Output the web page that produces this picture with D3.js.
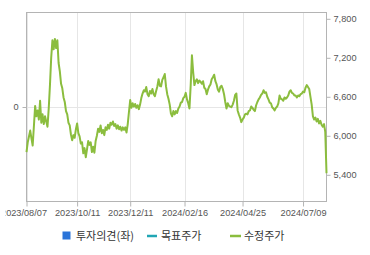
<!DOCTYPE html>
<html>
<head>
<meta charset="utf-8">
<script src="https://cdn.jsdelivr.net/npm/d3@7"></script>
<style>
  html, body { margin: 0; padding: 0; background: #fff; }
  svg { display: block; }
</style>
</head>
<body>
<svg id="chart" width="370" height="255"></svg>
<script>
// ---- Data ----
const tickLabels = ["2023/08/07", "2023/10/11", "2023/12/11", "2024/02/16", "2024/04/25", "2024/07/09"];
const tickIndex  = [0, 41, 84, 128, 175, 224];
const priceTicks = [5400, 6000, 6600, 7200, 7800];
const opinionTicks = [0];
const legendLabels = ["투자의견(좌)", "목표주가", "수정주가"];
// adjusted price (수정주가), one value per trading day 2023/08/07 .. 2024/08/05
const price = [
  5750, 5900, 5990, 6080, 5960, 5850, 6150, 6460, 6300, 6390,
  6250, 6540, 6200, 6330, 6180, 6300, 6220, 6140, 6420, 6780,
  7200, 7470, 7330, 7490, 7350, 7470, 7120, 6990, 6800, 6730,
  6590, 6520, 6380, 6330, 6200, 6160, 6020, 5930, 6010, 5970,
  6100, 6190, 6040, 5990, 5880, 5900, 5730, 5810, 5670, 5790,
  5920, 5860, 5900, 5750, 5830, 5740, 5920, 6000, 6110, 6060,
  6160, 6040, 6090, 6010, 6130, 6090, 6170, 6110, 6200, 6170,
  6220, 6150, 6180, 6110, 6160, 6100, 6140, 6080, 6130, 6090,
  6130, 6050, 6180, 6370, 6550, 6430, 6500, 6450, 6490, 6430,
  6470, 6410, 6480, 6580, 6650, 6700, 6680, 6750, 6640, 6610,
  6690, 6650, 6720, 6640, 6610, 6690, 6760, 6870, 6770, 6760,
  6860, 6900, 6950, 6760, 6640, 6570, 6480, 6340, 6300, 6380,
  6330, 6380, 6350, 6420, 6450, 6510, 6520, 6580, 6600, 6660,
  6560, 6500, 6420, 6780, 7240, 6980, 6780, 6840, 6870, 6810,
  6850, 6830, 6800, 6840, 6740, 6720, 6640, 6710, 6760, 6790,
  6870, 6900, 6940, 6840, 6790, 6710, 6680, 6750, 6770, 6720,
  6640, 6520, 6420, 6500, 6460, 6450, 6440, 6480, 6540, 6630,
  6650, 6390, 6330, 6280, 6210, 6250, 6280, 6330, 6340, 6330,
  6380, 6390, 6450, 6430, 6400, 6380, 6470, 6520, 6560, 6590,
  6630, 6650, 6700, 6660, 6670, 6600, 6560, 6510, 6500, 6440,
  6420, 6390, 6430, 6450, 6500, 6620, 6570, 6560, 6540, 6590,
  6570, 6590, 6620, 6680, 6700, 6660, 6650, 6620, 6620, 6590,
  6620, 6610, 6640, 6650, 6680, 6670, 6740, 6780, 6750, 6720,
  6600, 6480, 6300, 6250, 6280, 6220, 6260, 6190, 6230, 6170,
  6140, 6180, 6060, 5425
];

// ---- Layout ----
const W = 370, H = 255;
const L = 26.5, R = 326.5, T = 12.5, B = 201.5;
const svg = d3.select("#chart");
svg.append("rect").attr("width", W).attr("height", H).attr("fill", "#fff");

const x = d3.scaleLinear().domain([0, price.length - 1]).range([L, R]);
const y = d3.scaleLinear().domain([4989, 7897]).range([B, T]);
const yl = d3.scaleLinear().domain([-1, 1]).range([B, T]);

const fontTick = "'Liberation Sans', Arial, sans-serif";
const tickSize = "9.2px";

// clip for the left edge of the canvas (first date label is cut off)
svg.append("clipPath").attr("id", "canvasClip")
  .append("rect").attr("x", 5.5).attr("y", 0).attr("width", W).attr("height", H);

// gridlines
const grid = svg.append("g");
grid.selectAll("line.v").data(tickIndex).join("line")
  .attr("x1", d => Math.round(x(d)) + 0.5).attr("x2", d => Math.round(x(d)) + 0.5)
  .attr("y1", T).attr("y2", B)
  .attr("stroke", "#e6e6e6").attr("stroke-width", 1);
grid.selectAll("line.h").data(opinionTicks).join("line")
  .attr("x1", L).attr("x2", R)
  .attr("y1", d => Math.round(yl(d)) + 0.5).attr("y2", d => Math.round(yl(d)) + 0.5)
  .attr("stroke", "#e6e6e6").attr("stroke-width", 1);

// frame
svg.append("rect").attr("x", L).attr("y", T).attr("width", R - L).attr("height", B - T)
  .attr("fill", "none").attr("stroke", "#b4b4b4").attr("stroke-width", 1);

// bottom axis
const xAxis = d3.axisBottom(x).tickValues(tickIndex)
  .tickFormat((d, i) => tickLabels[i]).tickSize(5).tickPadding(3);
const gx = svg.append("g").attr("transform", `translate(0,${B})`)
  .attr("clip-path", "url(#canvasClip)").call(xAxis);
gx.select(".domain").remove();
gx.selectAll(".tick line").attr("stroke", "#b4b4b4");
gx.selectAll(".tick text").attr("fill", "#555").attr("font-size", tickSize)
  .attr("font-family", fontTick);
gx.selectAll(".tick").filter((d, i) => i === 0).select("text").attr("dx", "-3px");

// right axis (price)
const yAxis = d3.axisRight(y).tickValues(priceTicks)
  .tickFormat(d3.format(",")).tickSize(4).tickPadding(3);
const gy = svg.append("g").attr("transform", `translate(${R},0)`).call(yAxis);
gy.select(".domain").remove();
gy.selectAll(".tick line").attr("stroke", "#b4b4b4");
gy.selectAll(".tick text").attr("fill", "#555").attr("font-size", tickSize)
  .attr("font-family", fontTick);

// left axis (opinion)
const ylAxis = d3.axisLeft(yl).tickValues(opinionTicks).tickFormat(d3.format("d"))
  .tickSize(4).tickPadding(4);
const gyl = svg.append("g").attr("transform", `translate(${L},0)`).call(ylAxis);
gyl.select(".domain").remove();
gyl.selectAll(".tick line").attr("stroke", "#b4b4b4");
gyl.selectAll(".tick text").attr("fill", "#555").attr("font-size", tickSize)
  .attr("font-family", fontTick);

// price line
const line = d3.line().x((d, i) => x(i)).y(d => y(d));
svg.append("path").datum(price).attr("d", line)
  .attr("fill", "none").attr("stroke", "#8bbd3e").attr("stroke-width", 2)
  .attr("stroke-linejoin", "round");

// legend
const fontLeg = "'Noto Sans CJK KR', 'Noto Sans', sans-serif";
const lg = svg.append("g").attr("font-family", fontLeg).attr("font-size", "11px").attr("fill", "#333");
const legY = 236;
lg.append("rect").attr("x", 62.5).attr("y", legY - 4.5).attr("width", 8).attr("height", 8).attr("fill", "#2a74d9");
lg.append("text").attr("x", 76).attr("y", legY).attr("dy", "0.36em").text(legendLabels[0]);
lg.append("line").attr("x1", 147).attr("x2", 157).attr("y1", legY).attr("y2", legY)
  .attr("stroke", "#21a6b4").attr("stroke-width", 2.5);
lg.append("text").attr("x", 161).attr("y", legY).attr("dy", "0.36em").text(legendLabels[1]);
lg.append("line").attr("x1", 230).attr("x2", 241).attr("y1", legY).attr("y2", legY)
  .attr("stroke", "#8bbd3e").attr("stroke-width", 2.5);
lg.append("text").attr("x", 244).attr("y", legY).attr("dy", "0.36em").text(legendLabels[2]);
</script>
</body>
</html>
